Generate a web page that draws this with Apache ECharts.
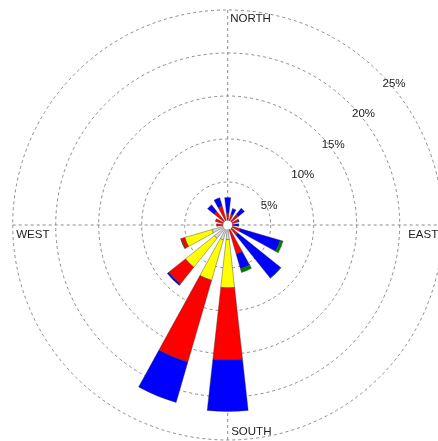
<!DOCTYPE html>
<html>
<head>
<meta charset="utf-8">
<script src="https://cdn.jsdelivr.net/npm/echarts@6/dist/echarts.min.js"></script>
<style>
  html, body { margin: 0; padding: 0; background: #fff; }
  #chart { width: 438px; height: 441px; }
</style>
</head>
<body>
<div id="chart"></div>
<script>
// Sixteen compass sectors, clockwise from north
const directions = ['N', 'NNE', 'NE', 'ENE', 'E', 'ESE', 'SE', 'SSE',
                    'S', 'SSW', 'SW', 'WSW', 'W', 'WNW', 'NW', 'NNW'];

// Frequency (%) of each wind-speed class per sector, stacked from the centre out
const speedClass1 = [0.3, 0.3, 0.3, 0.3, 0.3, 0.3, 0.3, 0.3, 1.7, 1.8, 2.0, 1.9, 0.5, 0.4, 0.3, 0.3];
const speedClass2 = [0, 0, 0, 0, 0, 0, 0, 0, 5.6, 4.9, 4.3, 3.3, 0, 0, 0, 0];
const speedClass3 = [1.1, 1.0, 1.3, 1.0, 0.4, 1.2, 1.2, 3.2, 8.4, 9.9, 2.5, 0.45, 0.8, 1.1, 1.7, 2.0];
const speedClass4 = [1.8, 0.7, 0.9, 0.1, 0.6, 4.85, 6.4, 1.8, 6.0, 4.9, 0.2, 0, 0, 0, 1.0, 1.0];
const speedClass5 = [0, 0, 0, 0, 0, 0.35, 0.05, 0.45, 0, 0, 0, 0.05, 0, 0, 0, 0];

const speedNames = ['0-2 m/s', '2-4 m/s', '4-6 m/s', '6-8 m/s', '> 8 m/s'];
const speedColors = ['#d9d9d9', '#ffff00', '#ff0000', '#0000ff', '#008000'];

// Frequency rings
const ringMax = 25;
const ringStep = 5;

// Cardinal point labels
const compassLabels = ['NORTH', 'EAST', 'SOUTH', 'WEST'];

const CX = 227.7, CY = 225, R = 215;
const FONT = '11.5px "Liberation Sans", Arial, sans-serif';
const TEXT_COLOR = '#222';
const gridLine = { color: '#8c8c8c', width: 1, type: [3, 3] };

const chart = echarts.init(document.getElementById('chart'), null, { renderer: 'canvas' });

const classes = [speedClass1, speedClass2, speedClass3, speedClass4, speedClass5];

const hidden = { show: false };

const option = {
  animation: false,
  backgroundColor: '#fff',
  polar: [
    { center: [CX, CY], radius: R },   // bars
    { center: [CX, CY], radius: R },   // rings and spokes
    { center: [CX, CY], radius: R }    // percentage labels
  ],
  angleAxis: [
    {
      polarIndex: 0, type: 'category', data: directions,
      startAngle: 90 + 360 / directions.length / 2, clockwise: true,
      axisLine: hidden, axisTick: hidden, axisLabel: hidden, splitLine: hidden
    },
    {
      polarIndex: 1, type: 'value', min: 0, max: 360, interval: 90,
      startAngle: 90, clockwise: true,
      axisLine: hidden, axisTick: hidden, axisLabel: hidden,
      splitLine: { show: true, lineStyle: gridLine }
    },
    {
      polarIndex: 2, type: 'value', min: 0, max: 360,
      startAngle: 45, clockwise: true,
      axisLine: hidden, axisTick: hidden, axisLabel: hidden, splitLine: hidden
    }
  ],
  radiusAxis: [
    {
      polarIndex: 0, type: 'value', min: 0, max: ringMax,
      axisLine: hidden, axisTick: hidden, axisLabel: hidden, splitLine: hidden
    },
    {
      polarIndex: 1, type: 'value', min: 0, max: ringMax, interval: ringStep,
      axisLine: hidden, axisTick: hidden, axisLabel: hidden,
      splitLine: { show: true, lineStyle: gridLine }
    },
    {
      polarIndex: 2, type: 'value', min: 0, max: ringMax, interval: ringStep,
      axisLine: hidden, axisTick: hidden, splitLine: hidden,
      axisLabel: {
        show: true, margin: 6,
        align: 'left', verticalAlign: 'top',
        padding: [9, 0, 0, 7],
        color: TEXT_COLOR, fontSize: 11.5,
        fontFamily: '"Liberation Sans", Arial, sans-serif',
        formatter: v => (v === 0 ? '' : v + '%')
      }
    }
  ],
  series: classes.map((values, i) => ({
    type: 'bar',
    name: speedNames[i],
    coordinateSystem: 'polar',
    polarIndex: 0,
    stack: 'rose',
    barCategoryGap: '44%',
    silent: true,
    data: values.map(v => (v > 0 ? v : null)),
    itemStyle: { color: speedColors[i], borderColor: '#333', borderWidth: 0.4 }
  })),
  graphic: [
    { type: 'circle', z: 100, shape: { cx: CX, cy: CY, r: 4.5 }, style: { fill: '#fff' } },
    { type: 'text', z: 100, x: CX + 2.5, y: CY - R + 9,
      style: { text: compassLabels[0], font: FONT, fill: TEXT_COLOR, align: 'left', verticalAlign: 'middle' } },
    { type: 'text', z: 100, x: CX + R - 34.5, y: CY + 10,
      style: { text: compassLabels[1], font: FONT, fill: TEXT_COLOR, align: 'left', verticalAlign: 'middle' } },
    { type: 'text', z: 100, x: CX + 3.5, y: CY + R - 8,
      style: { text: compassLabels[2], font: FONT, fill: TEXT_COLOR, align: 'left', verticalAlign: 'middle' } },
    { type: 'text', z: 100, x: CX - R + 3.5, y: CY + 10,
      style: { text: compassLabels[3], font: FONT, fill: TEXT_COLOR, align: 'left', verticalAlign: 'middle' } }
  ]
};

chart.setOption(option);
</script>
</body>
</html>
